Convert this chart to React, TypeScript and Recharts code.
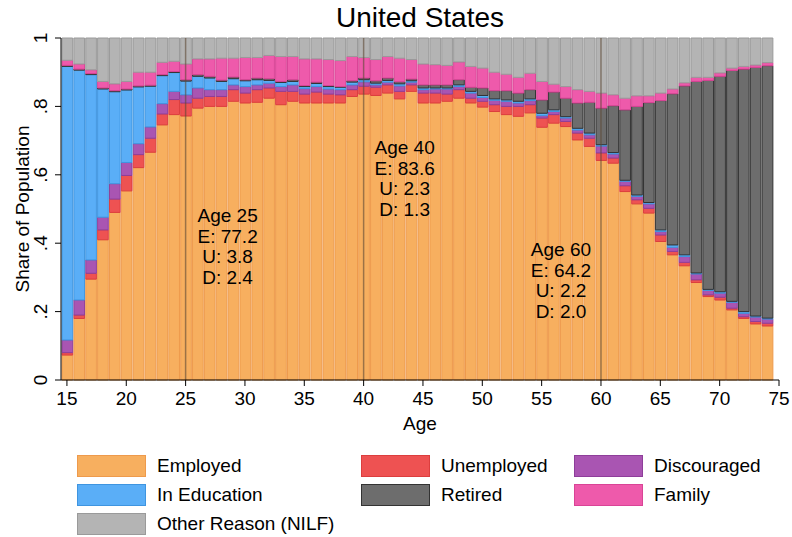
import React from 'react'
import { BarChart, Bar, XAxis, YAxis, ReferenceLine } from 'recharts'

// ages 15..74, one bar each
const ages = [
  15, 16, 17, 18, 19, 20, 21, 22, 23, 24, 25, 26, 27, 28, 29, 30, 31, 32, 33, 34,
  35, 36, 37, 38, 39, 40, 41, 42, 43, 44, 45, 46, 47, 48, 49, 50, 51, 52, 53, 54,
  55, 56, 57, 58, 59, 60, 61, 62, 63, 64, 65, 66, 67, 68, 69, 70, 71, 72, 73, 74,
]

const employed = [
  0.073, 0.18, 0.295, 0.41, 0.49, 0.553, 0.621, 0.666, 0.746, 0.776, 0.772, 0.795, 0.8, 0.8, 0.815, 0.81, 0.812, 0.824, 0.805, 0.815,
  0.81, 0.81, 0.81, 0.81, 0.829, 0.836, 0.832, 0.839, 0.822, 0.844, 0.81, 0.81, 0.815, 0.824, 0.81, 0.798, 0.785, 0.776, 0.771, 0.781,
  0.739, 0.751, 0.741, 0.702, 0.683, 0.642, 0.634, 0.551, 0.515, 0.488, 0.405, 0.366, 0.334, 0.285, 0.244, 0.234, 0.205, 0.18, 0.164, 0.158,
]
const unemployed = [
  0.007, 0.01, 0.017, 0.029, 0.039, 0.045, 0.038, 0.041, 0.032, 0.044, 0.038, 0.029, 0.029, 0.029, 0.034, 0.029, 0.037, 0.03, 0.039, 0.029,
  0.026, 0.032, 0.026, 0.024, 0.02, 0.023, 0.024, 0.024, 0.022, 0.019, 0.029, 0.029, 0.021, 0.025, 0.014, 0.017, 0.02, 0.024, 0.029, 0.024,
  0.027, 0.025, 0.015, 0.02, 0.024, 0.022, 0.015, 0.017, 0.012, 0.014, 0.019, 0.01, 0.01, 0.008, 0.005, 0.008, 0.005, 0.005, 0.007, 0.008,
]
const discouraged = [
  0.037, 0.044, 0.039, 0.037, 0.045, 0.038, 0.032, 0.033, 0.03, 0.024, 0.024, 0.03, 0.02, 0.02, 0.014, 0.019, 0.014, 0.014, 0.014, 0.019,
  0.016, 0.016, 0.015, 0.015, 0.014, 0.013, 0.007, 0.008, 0.016, 0.008, 0.01, 0.012, 0.015, 0.009, 0.015, 0.011, 0.013, 0.015, 0.01, 0.012,
  0.007, 0.009, 0.01, 0.009, 0.01, 0.02, 0.012, 0.013, 0.01, 0.013, 0.01, 0.012, 0.017, 0.017, 0.013, 0.012, 0.017, 0.01, 0.013, 0.012,
]
const education = [
  0.8, 0.672, 0.542, 0.375, 0.269, 0.212, 0.166, 0.119, 0.082, 0.055, 0.04, 0.034, 0.034, 0.024, 0.018, 0.017, 0.015, 0.008, 0.012, 0.01,
  0.006, 0.009, 0.007, 0.007, 0.008, 0.006, 0.005, 0.005, 0.006, 0.004, 0.005, 0.003, 0.003, 0.005, 0.005, 0.006, 0.004, 0.004, 0.005, 0.005,
  0.007, 0.005, 0.004, 0.005, 0.005, 0.004, 0.004, 0.003, 0.004, 0.004, 0.005, 0.007, 0.005, 0.003, 0.003, 0.004, 0.003, 0.005, 0.003, 0.003,
]
const retired = [
  0.003, 0.003, 0.003, 0.003, 0.003, 0.003, 0.003, 0.003, 0.003, 0.003, 0.004, 0.005, 0.005, 0.004, 0.005, 0.003, 0.005, 0.005, 0.003, 0.005,
  0.003, 0.004, 0.003, 0.002, 0.004, 0.005, 0.007, 0.007, 0.006, 0.005, 0.009, 0.009, 0.009, 0.015, 0.012, 0.022, 0.024, 0.027, 0.024, 0.027,
  0.039, 0.052, 0.054, 0.074, 0.09, 0.107, 0.137, 0.206, 0.259, 0.292, 0.378, 0.442, 0.494, 0.56, 0.611, 0.63, 0.675, 0.709, 0.727, 0.738,
]
const family = [
  0.015, 0.015, 0.011, 0.019, 0.02, 0.022, 0.04, 0.038, 0.036, 0.03, 0.046, 0.046, 0.051, 0.064, 0.055, 0.065, 0.06, 0.068, 0.073, 0.068,
  0.078, 0.068, 0.076, 0.076, 0.071, 0.06, 0.062, 0.063, 0.069, 0.057, 0.061, 0.059, 0.057, 0.052, 0.061, 0.058, 0.054, 0.048, 0.046, 0.048,
  0.054, 0.023, 0.034, 0.039, 0.032, 0.044, 0.032, 0.034, 0.031, 0.02, 0.022, 0.014, 0.009, 0.012, 0.009, 0.01, 0.007, 0.008, 0.007, 0.009,
]
const other = [
  0.065, 0.076, 0.093, 0.127, 0.134, 0.127, 0.1, 0.1, 0.071, 0.068, 0.076, 0.061, 0.061, 0.059, 0.059, 0.057, 0.057, 0.051, 0.054, 0.054,
  0.061, 0.061, 0.063, 0.066, 0.054, 0.057, 0.063, 0.054, 0.059, 0.063, 0.076, 0.078, 0.08, 0.07, 0.083, 0.088, 0.1, 0.106, 0.115, 0.103,
  0.127, 0.135, 0.142, 0.151, 0.156, 0.161, 0.166, 0.176, 0.169, 0.169, 0.161, 0.149, 0.131, 0.115, 0.115, 0.102, 0.088, 0.083, 0.079, 0.072,
]

const xTicks = [15, 20, 25, 30, 35, 40, 45, 50, 55, 60, 65, 70, 75]
const yTicks = [0, 0.2, 0.4, 0.6, 0.8, 1]

const note25 = ['Age 25', 'E: 77.2', 'U: 3.8', 'D: 2.4']
const note40 = ['Age 40', 'E: 83.6', 'U: 2.3', 'D: 1.3']
const note60 = ['Age 60', 'E: 64.2', 'U: 2.2', 'D: 2.0']

const series = [
  { key: 'employed', name: 'Employed', fill: '#F7AF5F', stroke: '#EE9A4C' },
  { key: 'unemployed', name: 'Unemployed', fill: '#EE5252', stroke: '#DC3E3E' },
  { key: 'discouraged', name: 'Discouraged', fill: '#A955B2', stroke: '#8E3E9A' },
  { key: 'education', name: 'In Education', fill: '#5AAEF7', stroke: '#3F95E0' },
  { key: 'retired', name: 'Retired', fill: '#6D6D6D', stroke: '#333333' },
  { key: 'family', name: 'Family', fill: '#EE5AAB', stroke: '#D94496' },
  { key: 'other', name: 'Other Reason (NILF)', fill: '#B4B4B4', stroke: '#9A9A9A' },
]

// legend order as in the picture (3 columns)
const legendOrder = ['employed', 'unemployed', 'discouraged', 'education', 'retired', 'family', 'other']

const data = ages.map((age, i) => ({
  age,
  employed: employed[i],
  unemployed: unemployed[i],
  discouraged: discouraged[i],
  education: education[i],
  retired: retired[i],
  family: family[i],
  other: other[i],
}))

const font = '"Liberation Sans", Arial, Helvetica, sans-serif'

const fmtY = (v: number) => (v === 0 ? '0' : v === 1 ? '1' : String(v).replace(/^0/, ''))

const YTick = (props: any) => {
  const { x, y, payload } = props
  const bx = x - 6
  return (
    <text x={bx} y={y} transform={`rotate(-90 ${bx} ${y})`} textAnchor="middle" fontSize={19} fill="#000" fontFamily={font}>
      {fmtY(payload.value)}
    </text>
  )
}

const noteLabel = (lines: string[], dx: number, top: number) => (props: any) => {
  const vb = props.viewBox || {}
  const cx = (vb.x || 0) + dx
  return (
    <text x={cx} y={(vb.y || 0) + top} textAnchor="middle" fontSize={19} fill="#000" fontFamily={font}>
      {lines.map((l, i) => (
        <tspan key={i} x={cx} dy={i === 0 ? 0 : 20.5}>
          {l}
        </tspan>
      ))}
    </text>
  )
}

export default function App() {
  return (
    <div style={{ position: 'absolute', left: 0, top: 0, width: 792, height: 537, background: '#fff', fontFamily: font }}>
      <div style={{ position: 'absolute', left: 0, top: 2, width: 840, textAlign: 'center', fontSize: 28, lineHeight: '32px', color: '#000' }}>
        United States
      </div>
      <BarChart
        width={792}
        height={537}
        data={data}
        margin={{ top: 38, right: 13, bottom: 107, left: 11 }}
        barCategoryGap={0}
        barGap={0}
      >
        <XAxis
          dataKey="age"
          type="number"
          domain={[14.5, 75]}
          ticks={xTicks}
          interval={0}
          height={50}
          tickSize={6}
          tickMargin={6}
          stroke="#000"
          tick={{ fontSize: 19, fill: '#000', fontFamily: font }}
          label={(p: any) => {
            const vb = p.viewBox
            return (
              <text x={vb.x + vb.width / 2} y={vb.y + 50} textAnchor="middle" fontSize={19} fill="#000" fontFamily={font}>
                Age
              </text>
            )
          }}
        />
        <YAxis
          type="number"
          domain={[0, 1]}
          ticks={yTicks}
          interval={0}
          width={50}
          tickSize={6}
          stroke="#000"
          tick={<YTick />}
          label={(p: any) => {
            const vb = p.viewBox
            const lx = vb.x + 18
            const ly = vb.y + vb.height / 2
            return (
              <text x={lx} y={ly} transform={`rotate(-90 ${lx} ${ly})`} textAnchor="middle" fontSize={19} fill="#000" fontFamily={font}>
                Share of Population
              </text>
            )
          }}
        />
        {series.map((s) => (
          <Bar
            key={s.key}
            dataKey={s.key}
            name={s.name}
            stackId="a"
            fill={s.fill}
            stroke={s.stroke}
            strokeWidth={1}
            barSize={11.87}
            isAnimationActive={false}
          />
        ))}
        <ReferenceLine x={25} stroke="#5e4a36" strokeOpacity={0.6} strokeWidth={1.5} label={noteLabel(note25, 42, 184)} />
        <ReferenceLine x={40} stroke="#5e4a36" strokeOpacity={0.6} strokeWidth={1.5} label={noteLabel(note40, 41, 116)} />
        <ReferenceLine x={60} stroke="#5e4a36" strokeOpacity={0.6} strokeWidth={1.5} label={noteLabel(note60, -40, 218)} />
      </BarChart>
      {legendOrder.map((k, i) => {
        const s = series.find((d) => d.key === k)!
        const col = i % 3
        const row = Math.floor(i / 3)
        const left = [77, 361, 574][col]
        const cy = 466 + row * 29
        return (
          <div key={k} style={{ position: 'absolute', left, top: cy - 11, height: 22, display: 'flex', alignItems: 'center' }}>
            <div style={{ width: 67, height: 20, background: s.fill, border: `1px solid ${s.stroke}` }} />
            <span style={{ marginLeft: 11, fontSize: 19, color: '#000', whiteSpace: 'nowrap' }}>{s.name}</span>
          </div>
        )
      })}
    </div>
  )
}
